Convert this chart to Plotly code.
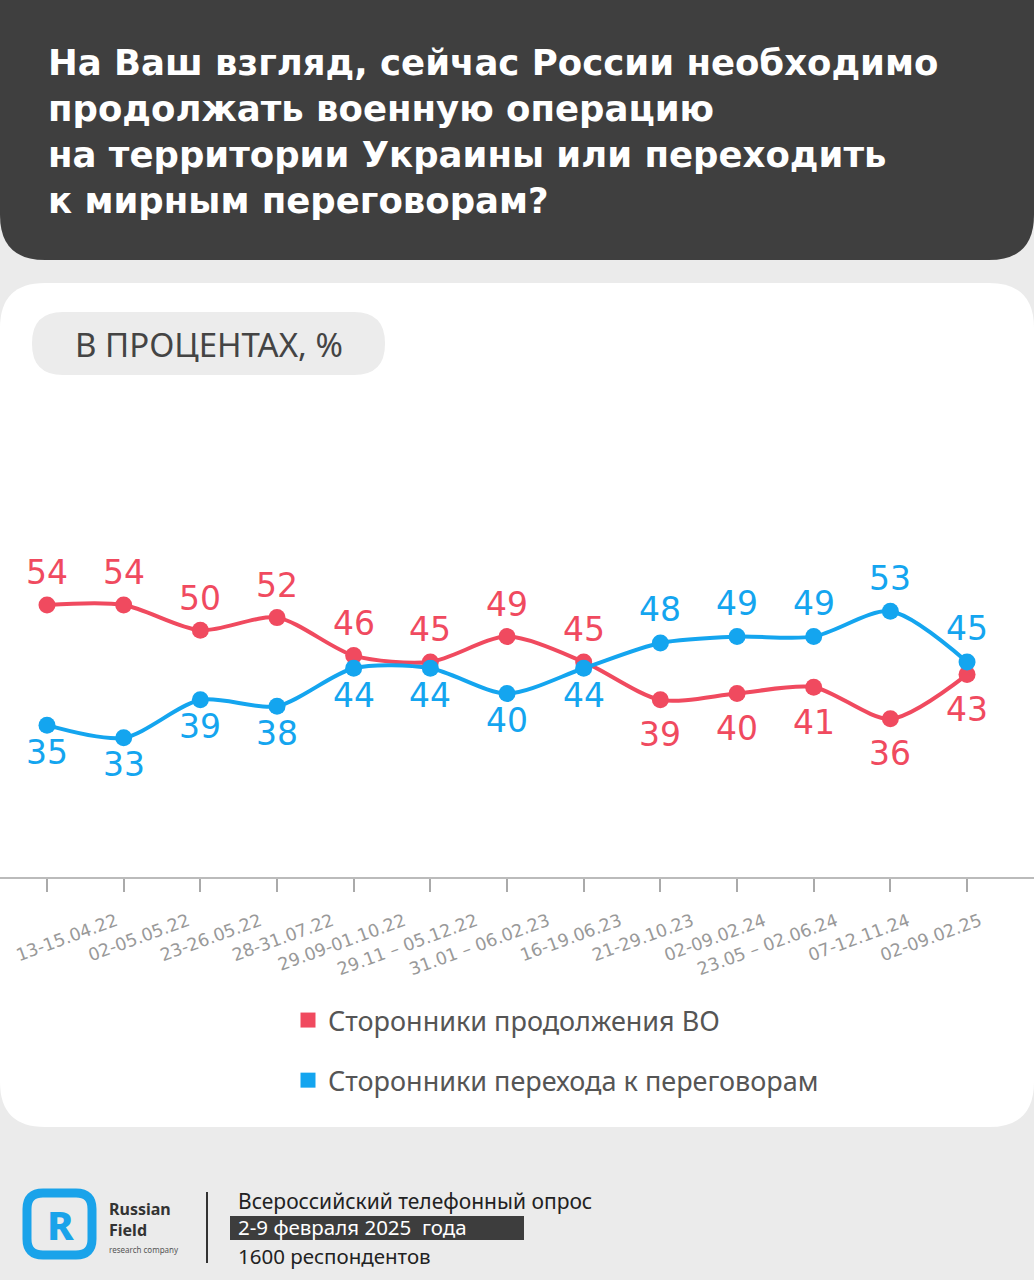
import plotly.graph_objects as go

W, H = 1034, 1280

dates = ["13-15.04.22", "02-05.05.22", "23-26.05.22", "28-31.07.22", "29.09-01.10.22",
         "29.11 – 05.12.22", "31.01 – 06.02.23", "16-19.06.23", "21-29.10.23", "02-09.02.24",
         "23.05 – 02.06.24", "07-12.11.24", "02-09.02.25"]
continue_vo = [54, 54, 50, 52, 46, 45, 49, 45, 39, 40, 41, 36, 43]
negotiate = [35, 33, 39, 38, 44, 44, 40, 44, 48, 49, 49, 53, 45]
# which labels sit above the point (True) or below it (False)
red_above = [True] * 8 + [False] * 5
blue_above = [False] * 8 + [True] * 5

red = "#f04a5f"
blue = "#14a5ef"
font = "Noto Sans"
wide_font = "DejaVu Sans"


def px(x):
    return x / W


def py(y):
    return 1 - y / H


def rounded(x0, y0, x1, y1, r):
    # rounded rectangle path in paper coords, pixel inputs
    p = "M %f,%f " % (px(x0 + r), py(y0))
    p += "L %f,%f " % (px(x1 - r), py(y0))
    p += "Q %f,%f %f,%f " % (px(x1), py(y0), px(x1), py(y0 + r))
    p += "L %f,%f " % (px(x1), py(y1 - r))
    p += "Q %f,%f %f,%f " % (px(x1), py(y1), px(x1 - r), py(y1))
    p += "L %f,%f " % (px(x0 + r), py(y1))
    p += "Q %f,%f %f,%f " % (px(x0), py(y1), px(x0), py(y1 - r))
    p += "L %f,%f " % (px(x0), py(y0 + r))
    p += "Q %f,%f %f,%f " % (px(x0), py(y0), px(x0 + r), py(y0))
    return p + "Z"


idx = list(range(len(dates)))

fig = go.Figure()
fig.add_trace(go.Scatter(x=idx, y=continue_vo, mode="lines+markers",
                         line=dict(color=red, width=4, shape="spline", smoothing=0.8),
                         marker=dict(size=17, color=red), showlegend=False, cliponaxis=False))
fig.add_trace(go.Scatter(x=idx, y=negotiate, mode="lines+markers",
                         line=dict(color=blue, width=4, shape="spline", smoothing=0.8),
                         marker=dict(size=17, color=blue), showlegend=False, cliponaxis=False))
# date labels sit on their own axis (slightly tighter spacing than the ticks)
fig.add_trace(go.Scatter(x=idx, y=[None] * len(idx), xaxis="x2", showlegend=False, hoverinfo="skip"))

# legend entries
fig.add_trace(go.Scatter(x=[None], y=[None], mode="markers", name="Сторонники продолжения ВО",
                         marker=dict(symbol="square", size=15, color=red), legendgroup="a"))
fig.add_trace(go.Scatter(x=[None], y=[None], mode="markers", name="Сторонники перехода к переговорам",
                         marker=dict(symbol="square", size=15, color=blue), legendgroup="b"))

P = dict(xref="paper", yref="paper")
shapes = [
    dict(type="path", path=rounded(0, -60, W, 260, 45), fillcolor="#3f3f3f", line_width=0, layer="below", **P),
    dict(type="path", path=rounded(0, 283, W, 1127, 45), fillcolor="white", line_width=0, layer="below", **P),
    dict(type="path", path=rounded(32, 312, 385, 375, 31), fillcolor="#ececec", line_width=0, layer="below", **P),
    # footer
    dict(type="line", x0=px(207), x1=px(207), y0=py(1192), y1=py(1263), line=dict(color="#333", width=2), **P),
    dict(type="rect", x0=px(230), x1=px(524), y0=py(1216), y1=py(1240), fillcolor="#3d3d3d", line_width=0, **P),
    dict(type="path", path=rounded(27, 1193, 92, 1255, 16), fillcolor="rgba(0,0,0,0)",
         line=dict(color="#1aa3ea", width=9), **P),
]

annotations = [
    dict(text="На Ваш взгляд, сейчас России необходимо<br>продолжать военную операцию<br>"
              "на территории Украины или переходить<br>к мирным переговорам?",
         x=px(46), y=py(40), xanchor="left", yanchor="top", align="left",
         font=dict(family=wide_font, size=35.5, color="white", weight="bold")),
    dict(text="В ПРОЦЕНТАХ, %", x=px(209), y=py(344), xanchor="center", yanchor="middle",
         font=dict(family=font, size=33, color="#444")),
    dict(text="R", x=px(60), y=py(1224), xanchor="center", yanchor="middle",
         font=dict(family=font, size=40, color="#1aa3ea", weight=800)),
    dict(text="Russian<br>Field", x=px(107), y=py(1196), xanchor="left", yanchor="top", align="left",
         font=dict(family=font, size=16, color="#333", weight=700)),
    dict(text="research company", x=px(107), y=py(1249), xanchor="left", yanchor="middle",
         font=dict(family=font, size=8, color="#555")),
    dict(text="Всероссийский телефонный опрос", x=px(236), y=py(1201), xanchor="left", yanchor="middle",
         font=dict(family=font, size=21, color="#222")),
    dict(text="2-9 февраля 2025  года", x=px(236), y=py(1227), xanchor="left", yanchor="middle",
         font=dict(family=font, size=20.5, color="white")),
    dict(text="1600 респондентов", x=px(236), y=py(1256), xanchor="left", yanchor="middle",
         font=dict(family=font, size=20.5, color="#222")),
]
for a in annotations:
    a.update(P)
    a["showarrow"] = False

# value labels next to each point
for vals, above, col, up, down in [(continue_vo, red_above, red, 32, 35),
                                    (negotiate, blue_above, blue, 33, 27)]:
    for i, v in enumerate(vals):
        annotations.append(dict(x=i, y=v, xref="x", yref="y", text=str(v), showarrow=False,
                                xanchor="center", yanchor="middle",
                                yshift=up if above[i] else -down,
                                font=dict(family=wide_font, size=33, color=col)))

x_per = 76.67
lab_per = 72.0
fig.update_layout(
    width=W, height=H,
    margin=dict(l=0, r=0, t=0, b=0, autoexpand=False),
    paper_bgcolor="#ebebeb",
    plot_bgcolor="rgba(0,0,0,0)",
    shapes=shapes,
    annotations=annotations,
    legend=dict(x=px(288), y=py(996), xanchor="left", yanchor="top", tracegroupgap=22,
                font=dict(family=font, size=27, color="#555"), bgcolor="rgba(0,0,0,0)"),
    xaxis=dict(domain=[0, 1], range=[-47 / x_per, (W - 47) / x_per], automargin=False,
               tickmode="array", tickvals=idx, showticklabels=False,
               ticks="outside", ticklen=13, tickcolor="#aaa", tickwidth=1.5,
               showline=True, linecolor="#bbb", linewidth=1.5, showgrid=False, zeroline=False),
    xaxis2=dict(overlaying="x", anchor="y", side="bottom", automargin=False,
                range=[-116 / lab_per, (W - 116) / lab_per],
                tickmode="array", tickvals=idx, ticktext=dates, tickangle=-20,
                ticks="", showline=False, showgrid=False, zeroline=False,
                ticklabeloverflow="allow", ticklabelstandoff=30,
                tickfont=dict(family=wide_font, size=17.5, color="#999")),
    yaxis=dict(domain=[py(877), py(400)], range=[11, 86.4], visible=False, showgrid=False,
               automargin=False),
    showlegend=True,
)

fig.write_html("out.html", config={"displayModeBar": False},
               post_script="document.body.style.margin='0';")
